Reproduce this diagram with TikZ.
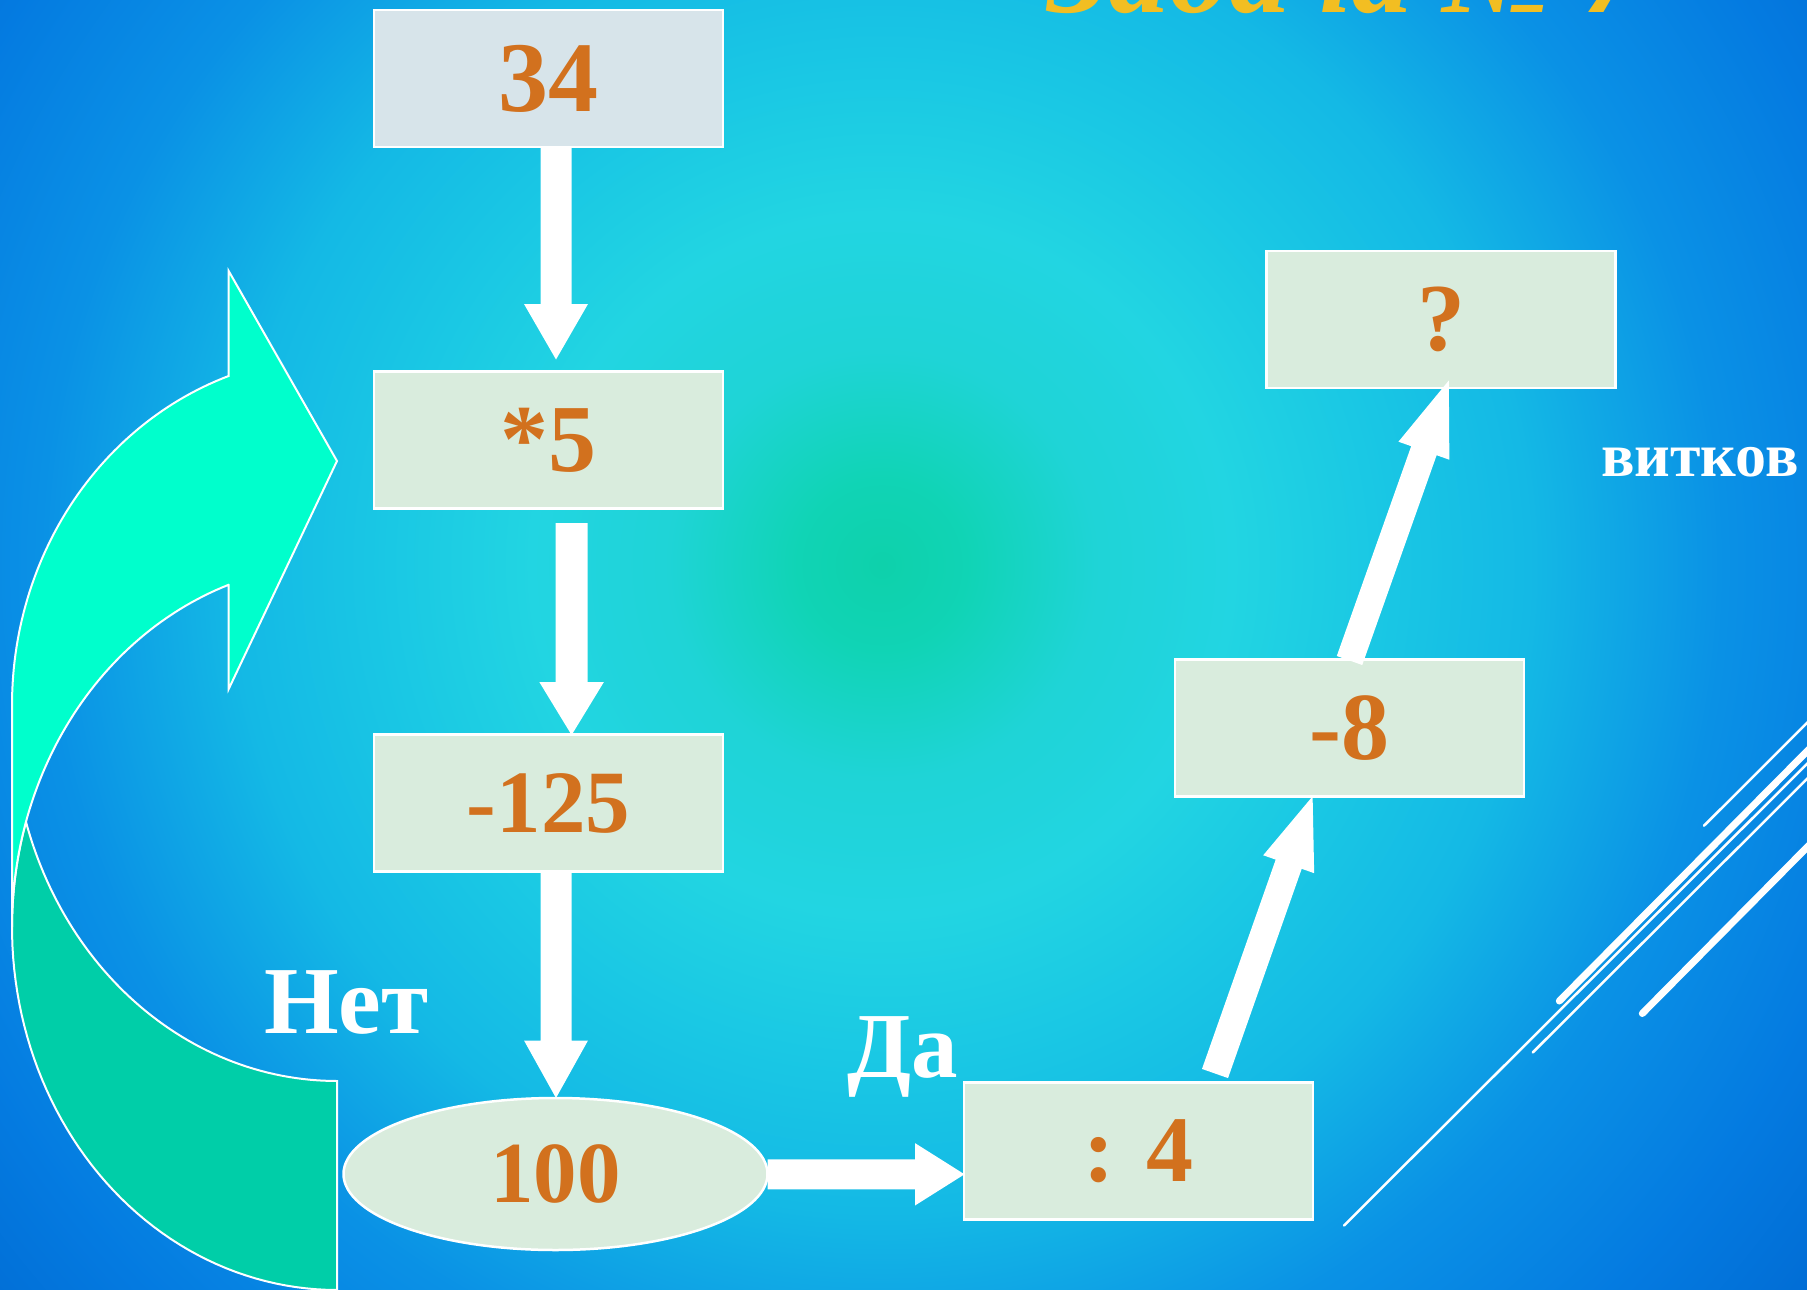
\documentclass[tikz,border=0pt]{standalone}
\usepackage{fontspec}
\setmainfont{Liberation Serif}
\usetikzlibrary{calc,shapes.geometric}
\definecolor{numc}{RGB}{210,113,30}
\definecolor{boxc}{RGB}{217,236,221}
\definecolor{boxtop}{RGB}{215,228,234}
\definecolor{titlec}{RGB}{242,190,34}
\definecolor{arrlight}{RGB}{0,255,204}
\definecolor{arrdark}{RGB}{0,206,168}
\pgfdeclareradialshading{bgshade}{\pgfpoint{0bp}{0bp}}{%
 rgb(0bp)=(0.055,0.82,0.67);
 rgb(1.77bp)=(0.063,0.83,0.71);
 rgb(4.42bp)=(0.12,0.83,0.84);
 rgb(7.3bp)=(0.133,0.835,0.886);
 rgb(10.5bp)=(0.10,0.78,0.894);
 rgb(13.5bp)=(0.078,0.725,0.898);
 rgb(17.5bp)=(0.04,0.57,0.90);
 rgb(21.5bp)=(0.016,0.48,0.88);
 rgb(25.5bp)=(0.0,0.41,0.82);
 rgb(31bp)=(0.0,0.345,0.745);
 rgb(50bp)=(0.0,0.345,0.745)}
\newcommand\blockarr[5]{%
  \path ($(#2)!#5!(#1)$) coordinate (hb);
  \fill[white] ($(#1)!#3!90:(#2)$) -- ($(hb)!#3!90:(#2)$) -- ($(hb)!#4!90:(#2)$) -- (#2)
    -- ($(hb)!#4!-90:(#2)$) -- ($(hb)!#3!-90:(#2)$) -- ($(#1)!#3!-90:(#2)$) -- cycle;}
\tikzset{
  box/.style={draw=white, line width=2.5pt, fill=boxc, minimum width=349pt, minimum height=137pt,
    inner sep=0pt, text=numc, font=\bfseries\fontsize{96}{96}\selectfont},
  lbl/.style={anchor=base west, inner sep=0pt, text=white, font=\bfseries\fontsize{93}{93}\selectfont},
  thinl/.style={white, line width=2.5pt, line cap=round},
  thickl/.style={white, line width=7pt, line cap=round}
}
\begin{document}
\begin{tikzpicture}[x=1pt,y=-1pt]
\useasboundingbox (0,0) rectangle (1807,1290);
\begin{scope}
\clip (0,0) rectangle (1807,1290);
\shade[shading=bgshade] (882,565) circle[radius=1200];

% decorative lines
\draw[thinl] (1704,825.7) -- (1840,690);
\draw[thickl] (1559.3,1001) -- (1840,718);
\draw[thinl] (1344,1225.5) -- (1840,731);
\draw[thinl] (1532.7,1052.5) -- (1840,746);
\draw[thickl] (1642.3,1013.5) -- (1840,814);

% curved arrow
\filldraw[fill=arrdark, draw=white, line width=2pt]
  plot[domain=196.8:90, samples=60] ({337+325*cos(\x)},{927+363*sin(\x)})
  -- (337,1081)
  -- plot[domain=90:163.1, samples=60] ({337+325*cos(\x)},{716+365*sin(\x)}) -- cycle;
\filldraw[fill=arrlight, draw=white, line width=2pt]
  (228.7,376) -- (228.7,271) -- (337,461) -- (228.7,689) -- (228.7,585)
  -- plot[domain=250.5:180, samples=60] ({337+325*cos(\x)},{927+363*sin(\x)})
  -- (12,705)
  -- plot[domain=180:250.5, samples=60] ({337+325*cos(\x)},{705+349*sin(\x)}) -- cycle;

% title
\node[anchor=base west, inner sep=0pt, text=titlec, font=\bfseries\itshape\fontsize{121}{121}\selectfont] (title) at (1047,13) {Задача № 7};

% boxes
\node[box, fill=boxtop, font=\bfseries\fontsize{100}{100}\selectfont] (n34) at (548.5,78.5) {34};
\node[box] (n5) at (548.5,440) {*5};
\node[box, font=\bfseries\fontsize{89}{89}\selectfont] (n125) at (548.5,803) {-125};
\node[draw=white, line width=2.5pt, fill=boxc, ellipse, minimum width=424pt, minimum height=152pt, inner sep=0pt,
  text=numc, font=\bfseries\fontsize{87}{87}\selectfont] (n100) at (555.5,1174) {100};
\node[box, font=\bfseries\fontsize{94}{94}\selectfont] (n4) at (1138.5,1151) {: 4};
\node[box] (n8) at (1349.5,728) {-8};
\node[box] (nq) at (1441,319.5) {?};

% labels
\node[lbl, font=\bfseries\fontsize{96}{96}\selectfont] (net) at (264,1033) {Нет};
\node[lbl] (da) at (847,1077) {Да};
\node[lbl, font=\bfseries\fontsize{62}{62}\selectfont] (vitkov) at (1601,476) {витков};

% block arrows
\coordinate (a1s) at (556,146);    \coordinate (a1e) at (556,359.5);
\coordinate (a2s) at (571.6,523);  \coordinate (a2e) at (571.6,735);
\coordinate (a3s) at (556,871);    \coordinate (a3e) at (556,1098);
\coordinate (a4s) at (767.5,1174.3); \coordinate (a4e) at (964.5,1174.3);
\coordinate (a5s) at (1215,1073.5); \coordinate (a5e) at (1312.6,796.3);
\coordinate (a6s) at (1349.5,660.5); \coordinate (a6e) at (1448.8,380.5);
\blockarr{a1s}{a1e}{15.5pt}{32pt}{55.5pt}
\blockarr{a2s}{a2e}{16pt}{32.3pt}{53pt}
\blockarr{a3s}{a3e}{15.5pt}{32pt}{57.5pt}
\blockarr{a4s}{a4e}{15pt}{31.2pt}{49.5pt}
\blockarr{a5s}{a5e}{13.8pt}{27pt}{72pt}
\blockarr{a6s}{a6e}{13.5pt}{27pt}{74.5pt}
\end{scope}
\end{tikzpicture}
\end{document}
